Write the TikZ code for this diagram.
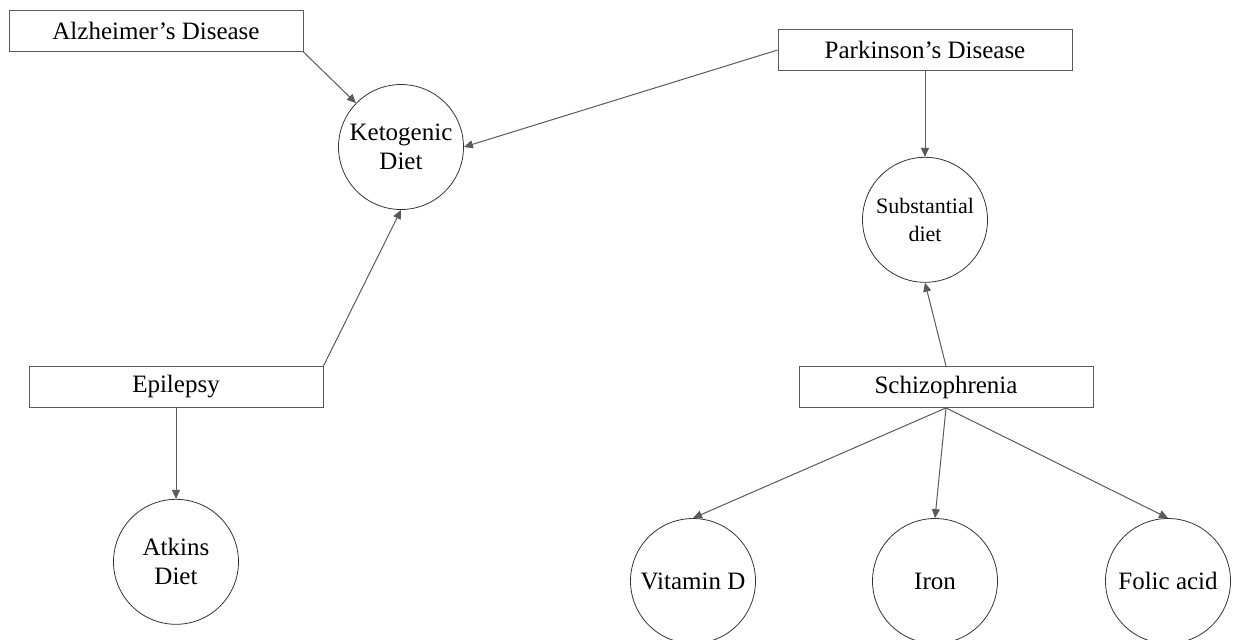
\documentclass[tikz,border=0pt]{standalone}
\usepackage{fontspec}
\setmainfont{Liberation Serif}
\usepackage{xcolor}
\usepackage{tikz}
\usetikzlibrary{arrows.meta, positioning}
\definecolor{edge}{HTML}{5a5a5a}

\begin{document}
\begin{tikzpicture}[
    x=0.5pt, y=-0.5pt,
    disease/.style={rectangle, draw=edge, fill=white, minimum width=147pt, minimum height=20.5pt, inner sep=0pt, font=\fontsize{12.5}{14.5}\selectfont},
    diet/.style={circle, draw=black!80, fill=white, minimum size=62.5pt, inner sep=0pt, align=center, font=\fontsize{12.5}{14.5}\selectfont},
    arr/.style={-{Triangle[length=4.5pt, width=4pt]}, line width=0.5pt, color=edge}
]
\clip (0,0) rectangle (1236,639);

% Diseases
\node[disease] (alz) at (156,31) {Alzheimer’s Disease};
\node[disease] (park) at (925,50) {Parkinson’s Disease};
\node[disease] (epi) at (176,387) {Epilepsy};
\node[disease] (schizo) at (946,387) {Schizophrenia};

% Diets
\node[diet] (keto) at (401,147) {Ketogenic\\Diet};
\node[diet, below=43pt of park, font=\fontsize{11}{14}\selectfont] (subst) {Substantial\\diet};
\node[diet, below=45.5pt of epi] (atkins) {Atkins\\Diet};

% Nutrients
\node[diet] (vitd) at (693,581) {Vitamin D};
\node[diet] (iron) at (935,581) {Iron};
\node[diet] (folic) at (1168,581) {Folic acid};

% Arrows
\draw[arr] (alz.south east) -- (keto);
\draw[arr] (park.west) -- (keto.east);
\draw[arr] (epi.north east) -- (keto.south);
\draw[arr] (epi) -- (atkins);
\draw[arr] (park) -- (subst);
\draw[arr] (schizo.north) -- (subst.south);
\draw[arr] (schizo.south) -- (vitd.north);
\draw[arr] (schizo.south) -- (iron.north);
\draw[arr] (schizo.south) -- (folic.north);

\end{tikzpicture}
\end{document}
